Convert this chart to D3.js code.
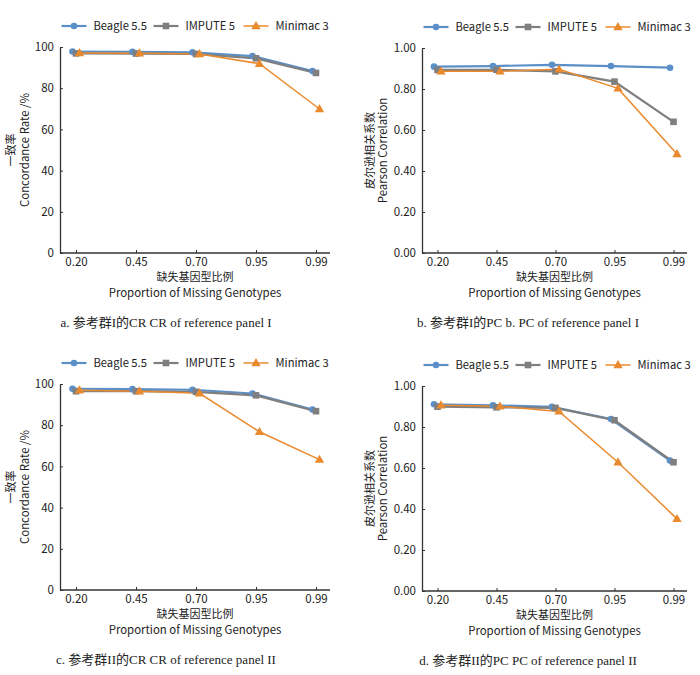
<!DOCTYPE html>
<html><head><meta charset="utf-8">
<script src="https://cdn.jsdelivr.net/npm/d3@7"></script>
<style>
body{margin:0;background:#fff;}
svg text{font-family:"Noto Sans CJK SC","Noto Sans",sans-serif;fill:#222;}
.cap{font-family:"Liberation Serif","Noto Sans CJK SC",serif;}
</style></head><body>
<svg id="c" width="700" height="675"></svg>
<script>
const categories = ["0.20","0.45","0.70","0.95","0.99"];
const seriesNames = ["Beagle 5.5","IMPUTE 5","Minimac 3"];
const crTicks = [0,20,40,60,80,100];
const pcTicks = [0,0.2,0.4,0.6,0.8,1.0];

// Panel a: CR, reference panel I
const aBeagle  = [97.8, 97.7, 97.4, 95.6, 88.3];
const aImpute  = [96.9, 96.8, 96.6, 94.5, 87.4];
const aMinimac = [97.1, 97.0, 96.6, 91.9, 69.9];
// Panel b: PC, reference panel I
const bBeagle  = [0.909, 0.912, 0.918, 0.912, 0.904];
const bImpute  = [0.893, 0.894, 0.886, 0.836, 0.640];
const bMinimac = [0.886, 0.886, 0.896, 0.803, 0.483];
// Panel c: CR, reference panel II
const cBeagle  = [97.7, 97.5, 97.2, 95.4, 87.6];
const cImpute  = [96.5, 96.5, 96.2, 94.5, 86.8];
const cMinimac = [97.0, 96.5, 95.5, 76.8, 63.3];
// Panel d: PC, reference panel II
const dBeagle  = [0.911, 0.906, 0.898, 0.839, 0.636];
const dImpute  = [0.899, 0.896, 0.893, 0.833, 0.628];
const dMinimac = [0.906, 0.901, 0.876, 0.628, 0.352];

const colors = ["#5b8fc8","#7f7f7f","#ea8a2e"];
const widths = [2.2,2.2,1.5];
const offsets = [-3.5,0,3.5];

const svg = d3.select("#c");

function marker(g, i, x, y){
  const c = colors[i];
  if(i===0) g.append("circle").attr("cx",x).attr("cy",y).attr("r",3.3).attr("fill",c);
  else if(i===1) g.append("rect").attr("x",x-3.3).attr("y",y-3.3).attr("width",6.6).attr("height",6.6).attr("fill",c);
  else g.append("path").attr("d",d3.symbol(d3.symbolTriangle,38)()).attr("transform",`translate(${x},${y+0.5})`).attr("fill",c);
}

function panel(o){
  const g = svg.append("g");
  const x = d3.scalePoint().domain(categories).range([o.left+o.padL, o.left+o.padL+o.step*4]);
  const y = d3.scaleLinear().domain(o.domain).range([o.bottom, o.top]);
  const xa = g.append("g").attr("transform",`translate(0,${o.bottom})`)
    .call(d3.axisBottom(x).tickSizeInner(-3).tickSizeOuter(0).tickPadding(5));
  xa.select(".domain").attr("d",`M${o.left},0H${o.right}`);
  const ya = g.append("g").attr("transform",`translate(${o.left},0)`)
    .call(d3.axisLeft(y).tickValues(o.ticks).tickFormat(o.fmt).tickSizeInner(-3).tickSizeOuter(0).tickPadding(6));
  [xa,ya].forEach(a=>{
    a.selectAll(".domain").attr("stroke","#333").attr("stroke-width",1.3);
    a.selectAll(".tick line").attr("stroke","#333");
    a.selectAll(".tick text").attr("font-size",11.5).attr("fill","#222")
      .style("font-family",'"Noto Sans CJK SC","Noto Sans",sans-serif');
  });
  o.series.forEach((vals,i)=>{
    const line = d3.line().x((d,j)=>x(categories[j])+offsets[i]).y(d=>y(d));
    g.append("path").datum(vals).attr("d",line).attr("fill","none")
      .attr("stroke",colors[i]).attr("stroke-width",widths[i]);
  });
  o.series.forEach((vals,i)=>{
    vals.forEach((v,j)=>marker(g,i,x(categories[j])+offsets[i],y(v)));
  });
  // legend
  const lx = [1.5,93.5,183.5];
  const ly = o.top-21;
  seriesNames.forEach((n,i)=>{
    const sx = o.left+lx[i];
    g.append("line").attr("x1",sx).attr("x2",sx+25).attr("y1",ly).attr("y2",ly)
      .attr("stroke",colors[i]).attr("stroke-width",widths[i]);
    marker(g,i,sx+12.5,ly);
    g.append("text").attr("x",sx+32).attr("y",ly+4).attr("font-size",11.2).text(n);
  });
  // y label
  const cy = (o.top+o.bottom)/2;
  g.append("text").attr("transform",`translate(${o.left+o.yl1},${cy}) rotate(-90)`)
    .attr("text-anchor","middle").attr("font-size",11).text(o.ylab1);
  g.append("text").attr("transform",`translate(${o.left+o.yl2},${cy}) rotate(-90)`)
    .attr("text-anchor","middle").attr("font-size",11.4).text(o.ylab2);
  // x label
  const cx = (o.left+o.right)/2;
  g.append("text").attr("x",cx).attr("y",o.bottom+28).attr("text-anchor","middle")
    .attr("font-size",11).text("缺失基因型比例");
  g.append("text").attr("x",cx).attr("y",o.bottom+44).attr("text-anchor","middle")
    .attr("font-size",11.4).text("Proportion of Missing Genotypes");
  // caption
  g.append("text").attr("class","cap").attr("x",o.left+106).attr("y",o.bottom+74)
    .attr("text-anchor","middle").attr("font-size",13).attr("fill","#333").text(o.caption);
}

const fmtCR = d3.format("d");
const fmtPC = d3.format(".2f");

panel({left:60,right:330,top:47,bottom:253,padL:16,step:60,domain:[0,100],ticks:crTicks,fmt:fmtCR,
  series:[aBeagle,aImpute,aMinimac],ylab1:"一致率",ylab2:"Concordance Rate /%",yl1:-45,yl2:-31,
  caption:"a. 参考群I的CR CR of reference panel I"});
panel({left:422,right:687,top:48,bottom:253,padL:15.5,step:59,domain:[0,1],ticks:pcTicks,fmt:fmtPC,
  series:[bBeagle,bImpute,bMinimac],ylab1:"皮尔逊相关系数",ylab2:"Pearson Correlation",yl1:-48,yl2:-35,
  caption:"b. 参考群I的PC b. PC of reference panel I"});
panel({left:60,right:330,top:384,bottom:590,padL:16,step:60,domain:[0,100],ticks:crTicks,fmt:fmtCR,
  series:[cBeagle,cImpute,cMinimac],ylab1:"一致率",ylab2:"Concordance Rate /%",yl1:-45,yl2:-31,
  caption:"c. 参考群II的CR CR of reference panel II"});
panel({left:422,right:687,top:386,bottom:591,padL:15.5,step:59,domain:[0,1],ticks:pcTicks,fmt:fmtPC,
  series:[dBeagle,dImpute,dMinimac],ylab1:"皮尔逊相关系数",ylab2:"Pearson Correlation",yl1:-48,yl2:-35,
  caption:"d. 参考群II的PC PC of reference panel II"});
</script></body></html>
